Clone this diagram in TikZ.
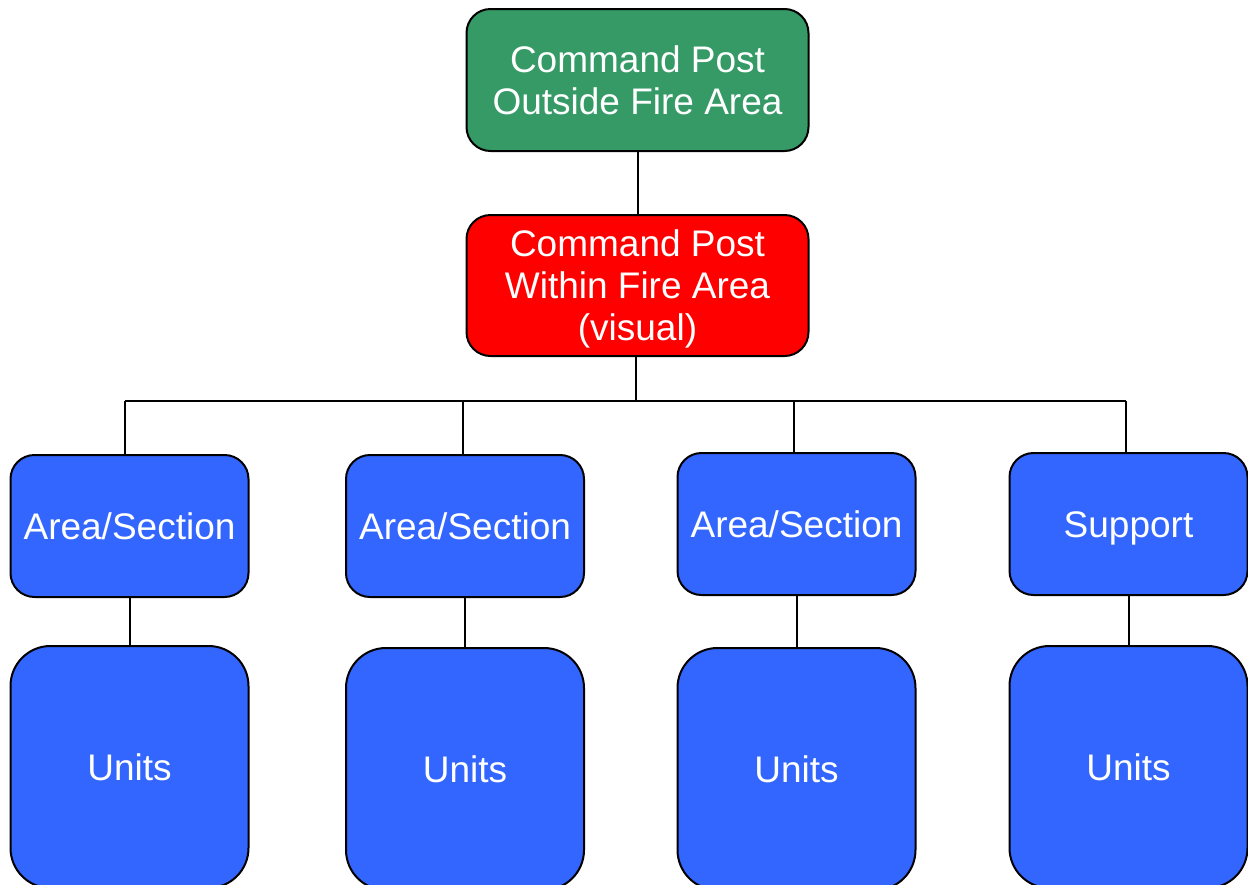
\documentclass[tikz,border=0pt]{standalone}
\usepackage{fontspec}
\setmainfont{Liberation Sans}
\definecolor{postgreen}{HTML}{359A66}
\definecolor{postred}{HTML}{FF0000}
\definecolor{unitblue}{HTML}{3366FF}
\begin{document}
\begin{tikzpicture}[x=1pt,y=-1pt,
  box/.style={draw=black, line width=2pt, rounded corners=24pt, align=center,
    text=white, font=\fontsize{37}{42}\selectfont, inner sep=0pt},
  topbox/.style={box, fill=postgreen, minimum width=342pt, minimum height=142pt},
  midbox/.style={box, fill=postred, minimum width=342pt, minimum height=141pt, text depth=0pt},
  onerow/.style={text height=27pt, text depth=0.5pt},
  areabox/.style={box, onerow, fill=unitblue, minimum width=238pt, minimum height=142pt},
  unitbox/.style={box, onerow, fill=unitblue, rounded corners=40pt, minimum width=238pt, minimum height=242pt},
  link/.style={draw=black, line width=2pt}]
\useasboundingbox (0,0) rectangle (1248,884);

% command posts
\node[topbox] (out) at (637.5,80) {Command Post\\Outside Fire Area};
\node[midbox] (in) at (637.5,285.5) {Command Post\\Within Fire Area\\(visual)};

% sections
\node[areabox] (a1) at (129.5,526) {Area/Section};
\node[areabox] (a2) at (465,526) {Area/Section};
\node[areabox] (a3) at (796.5,524) {Area/Section};
\node[areabox] (a4) at (1128.5,524) {Support};

% units
\node[unitbox] (u1) at (129.5,767) {Units};
\node[unitbox] (u2) at (465,769) {Units};
\node[unitbox] (u3) at (796.5,769) {Units};
\node[unitbox] (u4) at (1128.5,767) {Units};

% distribution bus
\coordinate (hub) at (636,401);
\coordinate (b1) at (125,401);
\coordinate (b2) at (463,401);
\coordinate (b3) at (794,401);
\coordinate (b4) at (1126,401);

\draw[link] (out) -- (in);
\draw[link] (in.south -| hub) -- (hub);
\draw[link] (b1) -- (b4);
\draw[link] (b1) -- (b1 |- a1.north);
\draw[link] (b2) -- (b2 |- a2.north);
\draw[link] (b3) -- (b3 |- a3.north);
\draw[link] (b4) -- (b4 |- a4.north);

\draw[link] (a1) -- (u1);
\draw[link] (a2) -- (u2);
\draw[link] (a3) -- (u3);
\draw[link] (a4) -- (u4);
\end{tikzpicture}
\end{document}
